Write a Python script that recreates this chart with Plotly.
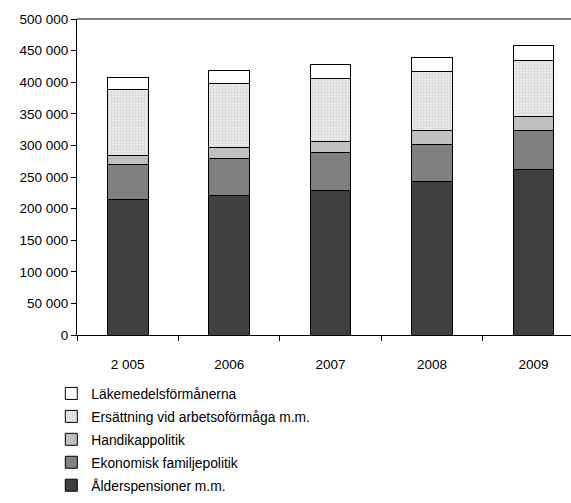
import plotly.graph_objects as go

years = ["2 005", "2006", "2007", "2008", "2009"]

alderspensioner = [214700, 221500, 229400, 242100, 261100]
ekonomisk_familjepolitik = [54700, 57500, 59600, 60100, 61700]
handikappolitik = [14900, 16900, 17900, 21100, 22200]
ersattning_arbetsoformaga = [104400, 102800, 99700, 93900, 90100]
lakemedelsformanerna = [19500, 20600, 21100, 21600, 22200]

y_ticks = [0, 50000, 100000, 150000, 200000, 250000, 300000, 350000, 400000, 450000, 500000]
y_tick_text = ["0", "50 000", "100 000", "150 000", "200 000", "250 000",
               "300 000", "350 000", "400 000", "450 000", "500 000"]

series = [
    ("Ålderspensioner m.m.", alderspensioner, dict(color="#404040")),
    ("Ekonomisk familjepolitik", ekonomisk_familjepolitik, dict(color="#808080")),
    ("Handikappolitik", handikappolitik, dict(color="#c0c0c0")),
    ("Ersättning vid arbetsoförmåga m.m.", ersattning_arbetsoformaga,
     dict(color="#efefef", pattern=dict(shape=".", fgcolor="#b8b8b8", size=3, solidity=0.45))),
    ("Läkemedelsförmånerna", lakemedelsformanerna, dict(color="#ffffff")),
]

fig = go.Figure()
n = len(series)
for i, (name, vals, mk) in enumerate(series):
    mk = dict(mk)
    mk["line"] = dict(color="#000000", width=1)
    fig.add_trace(go.Bar(x=years, y=vals, name=name, marker=mk,
                         legendgroup=f"g{i}", legendrank=n - i))

# top border of the plot area
fig.add_shape(type="line", xref="paper", yref="paper", x0=0, x1=1, y0=1, y1=1,
              line=dict(color="#000000", width=1))

fig.update_layout(
    barmode="stack",
    bargap=0.6,
    width=571,
    height=503,
    autosize=False,
    margin=dict(l=77, r=0, t=19, b=168, autoexpand=False),
    paper_bgcolor="#ffffff",
    plot_bgcolor="#ffffff",
    font=dict(family="Liberation Sans, Arial, sans-serif", size=13.5, color="#000000"),
    showlegend=True,
    legend=dict(
        orientation="v",
        traceorder="grouped",
        tracegroupgap=2,
        x=-0.052, xanchor="left",
        y=-0.136, yanchor="top",
        font=dict(size=13.8),
        bgcolor="rgba(0,0,0,0)",
        itemclick=False,
    ),
    xaxis=dict(
        type="category",
        range=[-0.5, 4.37],
        tickson="boundaries",
        ticks="outside",
        ticklen=5,
        tickcolor="#000000",
        showline=True,
        linecolor="#000000",
        linewidth=1,
        mirror=False,
        showgrid=False,
        ticklabelstandoff=17,
    ),
    yaxis=dict(
        range=[0, 500000],
        tickvals=y_ticks,
        ticktext=y_tick_text,
        ticks="outside",
        ticklen=5,
        tickcolor="#000000",
        showline=True,
        linecolor="#000000",
        linewidth=1,
        showgrid=False,
        zeroline=False,
    ),
)

fig.write_html("out.html", config={"displayModeBar": False})
